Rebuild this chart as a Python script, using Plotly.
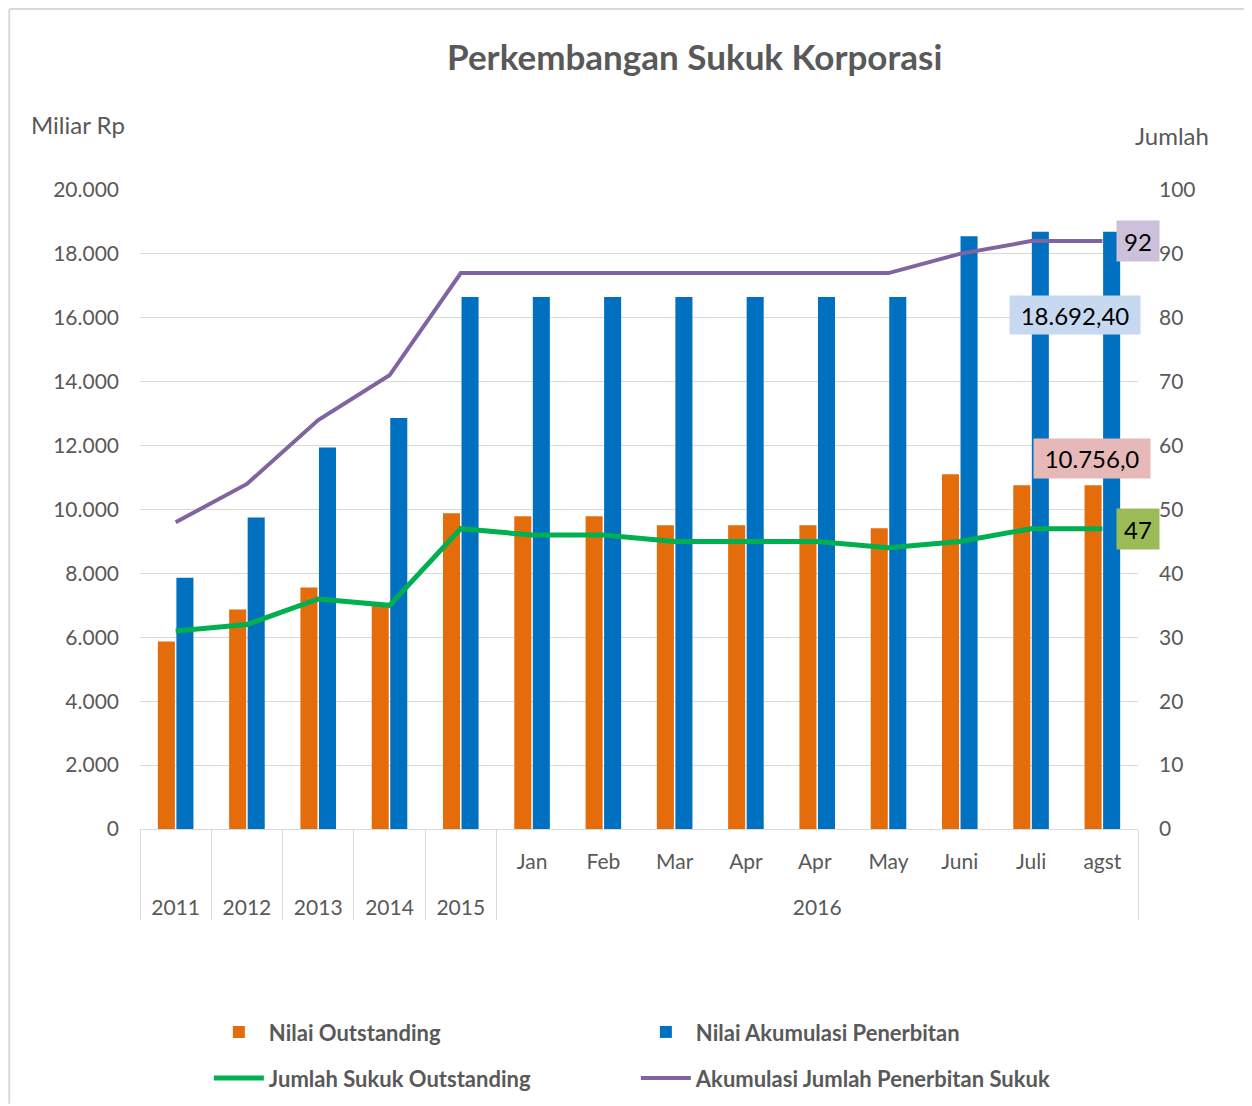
import plotly.graph_objects as go

outer = ["2011", "2012", "2013", "2014", "2015"] + ["2016"] * 9
inner = [" ", " ", " ", " ", " ", "Jan", "Feb", "Mar", "Apr", "Apr ", "May", "Juni", "Juli", "agst"]

nilai_outstanding = [5870, 6870, 7560, 7000, 9880, 9790, 9790, 9510, 9510, 9510, 9410, 11100, 10756.0, 10756.0]
nilai_akumulasi = [7860, 9750, 11940, 12860, 16650, 16650, 16650, 16650, 16650, 16650, 16650, 18550, 18692.4, 18692.4]
jumlah_outstanding = [31, 32, 36, 35, 47, 46, 46, 45, 45, 45, 44, 45, 47, 47]
akumulasi_jumlah = [48, 54, 64, 71, 87, 87, 87, 87, 87, 87, 87, 90, 92, 92]

GRAY = "#595959"
FONT = "Lato"

inner_lbl = [f"{s}<br><span style='font-size:46px'>\u00a0</span>" for s in inner]
x = [outer, inner_lbl]
fig = go.Figure()
fig.add_trace(go.Bar(x=x, y=nilai_outstanding, name="<b>Nilai Outstanding</b>", legend="legend",
                     marker=dict(color="#E46C0A", line=dict(width=0))))
fig.add_trace(go.Bar(x=x, y=nilai_akumulasi, name="<b>Nilai Akumulasi Penerbitan</b>", legend="legend",
                     marker=dict(color="#0070C0", line=dict(width=0))))
fig.add_trace(go.Scatter(x=x, y=jumlah_outstanding, name="<b>Jumlah Sukuk Outstanding</b>", yaxis="y2",
                         legend="legend2", mode="lines", line=dict(color="#00B050", width=5)))
fig.add_trace(go.Scatter(x=x, y=akumulasi_jumlah, name="<b>Akumulasi Jumlah Penerbitan Sukuk</b>", yaxis="y2",
                         legend="legend2", mode="lines", line=dict(color="#8064A2", width=4)))

last = len(inner) - 1
ann_font = dict(family=FONT, size=24, color="black")
annotations = [
    dict(x=last, y=akumulasi_jumlah[-1], xref="x", yref="y2", text=f"{akumulasi_jumlah[-1]}",
         showarrow=False, bgcolor="#CCC0DA", font=ann_font, xshift=36, borderpad=6, width=30, height=28),
    dict(x=last, y=jumlah_outstanding[-1], xref="x", yref="y2", text=f"{jumlah_outstanding[-1]}",
         showarrow=False, bgcolor="#9BBB59", font=ann_font, xshift=36, borderpad=6, width=30, height=28),
    dict(x=last, y=nilai_akumulasi[-1], xref="x", yref="y", text="18.692,40",
         showarrow=False, bgcolor="#C6D9F1", font=ann_font, xshift=-27, yshift=-83, borderpad=6,
         width=118, height=26),
    dict(x=last, y=nilai_outstanding[-1], xref="x", yref="y", text="10.756,0",
         showarrow=False, bgcolor="#E6B9B8", font=ann_font, xshift=-10, yshift=27, borderpad=6,
         width=104, height=27),
    dict(x=-0.062, y=1.103, xref="paper", yref="paper", text="Miliar Rp", showarrow=False,
         font=dict(family=FONT, size=24, color=GRAY), xanchor="center", yanchor="middle"),
    dict(x=1.034, y=1.086, xref="paper", yref="paper", text="Jumlah", showarrow=False,
         font=dict(family=FONT, size=24, color=GRAY), xanchor="center", yanchor="middle"),
]

legend_common = dict(orientation="h", xanchor="left", yanchor="top", entrywidth=362,
                     entrywidthmode="pixels", font=dict(family=FONT, size=22, color=GRAY),
                     itemwidth=50, bgcolor="rgba(0,0,0,0)")

border = dict(color="#D9D9D9", width=2)
fig.update_layout(
    width=1244, height=1098,
    margin=dict(l=132, r=114, t=182, b=277, autoexpand=False),
    paper_bgcolor="white", plot_bgcolor="white",
    separators=",.",
    font=dict(family=FONT, color=GRAY, size=20),
    title=dict(text="<b>Perkembangan Sukuk Korporasi</b>", x=0.552, xanchor="center",
               y=0.9546, yanchor="middle", font=dict(family=FONT, size=35, color=GRAY)),
    barmode="group", bargap=0.48, bargroupgap=0.08,
    xaxis=dict(type="multicategory", range=[-0.5, len(inner) - 0.5], showgrid=False, showline=True,
               linecolor="#D9D9D9", linewidth=1,
               tickfont=dict(family=FONT, size=21, color=GRAY), showdividers=True,
               dividercolor="#D9D9D9", dividerwidth=1, ticks="", ticklabelstandoff=14),
    yaxis=dict(range=[0, 20000], dtick=2000, tickformat=",d", showgrid=True, gridcolor="#D9D9D9",
               gridwidth=1, zeroline=False, showline=False, tickfont=dict(family=FONT, size=21, color=GRAY),
               ticklabelstandoff=20),
    yaxis2=dict(range=[0, 100], dtick=10, overlaying="y", side="right", showgrid=False, zeroline=False,
                showline=False, tickfont=dict(family=FONT, size=21, color=GRAY), ticklabelstandoff=20),
    legend=dict(x=0.069, y=-0.285, **legend_common),
    legend2=dict(x=0.069, y=-0.357, **legend_common),
    annotations=annotations,
    shapes=[
        dict(type="line", xref="paper", yref="paper", x0=-0.131, x1=1.112, y0=1.2833, y1=1.2833, line=border),
        dict(type="line", xref="paper", yref="paper", x0=-0.131, x1=-0.131, y0=-0.43, y1=1.2833, line=border),
    ],
)

fig.write_html("out.html")
